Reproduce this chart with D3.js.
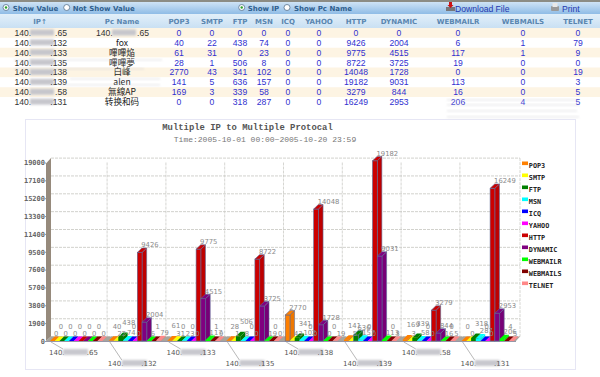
<!DOCTYPE html>
<html>
<head>
<meta charset="utf-8">
<script src="https://cdn.jsdelivr.net/npm/d3@7"></script>
<style>
  html, body { margin: 0; padding: 0; background: #fff; }
  svg { display: block; }
</style>
</head>
<body>
<div id="chart"></div>
<script>
const ipSuffix = [".65", ".132", ".133", ".135", ".138", ".139", ".58", ".131"];
const pcNames = ["", "fox", "嗶嗶焔", "嗶嗶夢", "白峰", "alen", "無線AP", "转换和码"];
const protocols = ["POP3", "SMTP", "FTP", "MSN", "ICQ", "YAHOO", "HTTP", "DYNAMIC", "WEBMAILR", "WEBMAILS", "TELNET"];
const colors = ["#ff8000", "#ffff00", "#008000", "#00ffff", "#0000ff", "#ff00ff", "#cc0000", "#800080", "#00ff00", "#800000", "#ff8888"];

const pop3 = [0, 40, 61, 28, 2770, 141, 169, 0];
const smtp = [0, 22, 31, 1, 43, 5, 3, 0];
const ftp = [0, 438, 0, 506, 341, 636, 339, 318];
const msn = [0, 74, 23, 8, 102, 157, 58, 287];
const icq = [0, 0, 0, 0, 0, 0, 0, 0];
const yahoo = [0, 0, 0, 0, 0, 0, 0, 0];
const http = [0, 9426, 9775, 8722, 14048, 19182, 3279, 16249];
const dynamic = [0, 2004, 4515, 3725, 1728, 9031, 844, 2953];
const webmailr = [0, 6, 117, 19, 0, 113, 16, 206];
const webmails = [0, 1, 1, 0, 0, 0, 0, 4];
const telnet = [0, 79, 9, 0, 19, 3, 5, 5];
const series = [pop3, smtp, ftp, msn, icq, yahoo, http, dynamic, webmailr, webmails, telnet];

const yTicks = [0, 1900, 3800, 5700, 7600, 9500, 11400, 13300, 15200, 17100, 19000];

const svg = d3.select("#chart").append("svg").attr("width", 600).attr("height", 377);
const defs = svg.append("defs");

const barGrad = defs.append("linearGradient").attr("id", "toolbar").attr("x2", 0).attr("y2", 1);
barGrad.append("stop").attr("offset", 0).attr("stop-color", "#cfe3f5");
barGrad.append("stop").attr("offset", 1).attr("stop-color", "#8fbce6");
const headGrad = defs.append("linearGradient").attr("id", "head").attr("x2", 0).attr("y2", 1);
headGrad.append("stop").attr("offset", 0).attr("stop-color", "#e2eff9");
headGrad.append("stop").attr("offset", 1).attr("stop-color", "#c9e0f3");
defs.append("filter").attr("id", "blur").attr("x", "-20%").attr("y", "-50%").attr("width", "140%").attr("height", "200%")
  .append("feGaussianBlur").attr("stdDeviation", 1);

drawToolbar();
drawTable();
drawChart();

function drawToolbar() {
  svg.append("rect").attr("width", 600).attr("height", 2).attr("fill", "#8c8c84");
  svg.append("rect").attr("y", 2).attr("width", 600).attr("height", 12).attr("fill", "url(#toolbar)");

  const opts = [
    { x: 12.7, r: 6, label: "Show Value", on: true },
    { x: 72.7, r: 66.7, label: "Not Show Value", on: false },
    { x: 247.7, r: 241.7, label: "Show IP", on: true },
    { x: 294, r: 287, label: "Show Pc Name", on: false },
  ];
  opts.forEach(o => {
    svg.append("circle").attr("cx", o.r).attr("cy", 7.5).attr("r", 3)
      .attr("fill", "#fff").attr("stroke", "#55708c").attr("stroke-width", 0.8);
    if (o.on) svg.append("circle").attr("cx", o.r).attr("cy", 7.5).attr("r", 1.2).attr("fill", "#2ca02c");
    svg.append("text").attr("x", o.x).attr("y", 11).text(o.label)
      .style("font", "bold 7px 'DejaVu Sans'").style("fill", "#2f5f8f");
  });

  // download and print icons
  svg.append("rect").attr("x", 446).attr("y", 7).attr("width", 9).attr("height", 4).attr("fill", "#77777a");
  svg.append("path").attr("d", "M449 2h3v3h1.5l-3 3-3-3h1.5z").attr("fill", "#cc1111");
  svg.append("rect").attr("x", 551).attr("y", 6).attr("width", 8).attr("height", 5).attr("rx", 1).attr("fill", "#9a9a9a");
  svg.append("rect").attr("x", 552.5).attr("y", 3).attr("width", 5).attr("height", 4).attr("fill", "#e8e8e8");
  svg.append("text").attr("x", 455).attr("y", 12).text("Download File")
    .style("font", "8.6px 'Liberation Sans'").style("fill", "#2438b0");
  svg.append("text").attr("x", 562).attr("y", 12).text("Print")
    .style("font", "8.6px 'Liberation Sans'").style("fill", "#2438b0");
}

function drawTable() {
  const cols = ["IP↑", "Pc Name"].concat(protocols);
  const colX = d3.scaleOrdinal().domain(cols).range([40, 122, 179, 212, 240, 264, 288, 319, 356, 399, 458, 523, 578]);
  const rowY = d3.scaleBand().domain(d3.range(8)).range([28, 107]);

  svg.append("rect").attr("y", 14).attr("width", 600).attr("height", 14).attr("fill", "url(#head)");
  svg.selectAll(".col-head").data(cols).join("text")
    .attr("class", "col-head")
    .attr("x", d => colX(d)).attr("y", 23.5).attr("text-anchor", "middle")
    .style("font", "bold 7px 'DejaVu Sans'").style("fill", "#5a86b0")
    .text(d => d);

  const rows = svg.selectAll(".row").data(d3.range(8)).join("g").attr("class", "row")
    .attr("transform", d => `translate(0,${rowY(d)})`);
  const mid = rowY.bandwidth() / 2 + 3;

  rows.append("rect").attr("width", 600).attr("height", rowY.bandwidth())
    .attr("fill", d => d % 2 ? "#fff" : "#fdf4e3");

  // masked address, as in the reference
  rows.append("text").attr("x", 14.5).attr("y", mid).text("140.")
    .style("font", "8.6px 'Liberation Sans'").style("fill", "#333");
  rows.append("rect").attr("x", 30).attr("y", 1.5).attr("width", 24).attr("height", 6)
    .attr("fill", "#c6c6cc").attr("filter", "url(#blur)");
  rows.append("text").attr("x", 67).attr("y", mid).attr("text-anchor", "end").text(d => ipSuffix[d])
    .style("font", "8.6px 'Liberation Sans'").style("fill", "#333");

  rows.append("text").attr("x", colX("Pc Name")).attr("y", mid).attr("text-anchor", "middle")
    .text(d => pcNames[d])
    .style("font", "8.6px 'Noto Sans CJK TC', 'Liberation Sans'").style("fill", "#222");
  const first = rows.filter(d => d === 0);
  first.append("text").attr("x", 96).attr("y", mid).text("140.")
    .style("font", "8.6px 'Liberation Sans'").style("fill", "#333");
  first.append("rect").attr("x", 112).attr("y", 1.5).attr("width", 24).attr("height", 6)
    .attr("fill", "#c6c6cc").attr("filter", "url(#blur)");
  first.append("text").attr("x", 149).attr("y", mid).attr("text-anchor", "end").text(".65")
    .style("font", "8.6px 'Liberation Sans'").style("fill", "#333");

  protocols.forEach((p, i) => {
    rows.append("text").attr("x", colX(p)).attr("y", mid).attr("text-anchor", "middle")
      .text(d => series[i][d])
      .style("font", "8.6px 'Liberation Sans'").style("fill", "#3030d0");
  });

  // faint page text that shows through
  const faint = [[14, 59, 148], [14, 68, 130], [70, 78, 90], [60, 84, 100], [447, 99, 132], [447, 104, 132], [447, 110, 130], [447, 116, 132]];
  faint.forEach(f => {
    svg.append("rect").attr("x", f[0]).attr("y", f[1]).attr("width", f[2]).attr("height", 1.6)
      .attr("fill", "#d4d4d8").attr("opacity", 0.45).attr("filter", "url(#blur)");
  });
}

function drawChart() {
  const dx = 4.6, dy = 4.4;
  const floorY = 341;

  svg.append("rect").attr("x", 25.5).attr("y", 119.5).attr("width", 550).attr("height", 250)
    .attr("fill", "#fff").attr("stroke", "#e6e6f4");

  svg.append("text").attr("x", 247.5).attr("y", 130).attr("text-anchor", "middle")
    .text("Multiple IP to Multiple Protocal")
    .style("font", "bold 8.9px 'Liberation Mono'").style("fill", "#555");
  svg.append("text").attr("x", 265).attr("y", 142).attr("text-anchor", "middle")
    .text("Time:2005-10-01 00:00~2005-10-20 23:59")
    .style("font", "8px 'Liberation Mono'").style("fill", "#777");

  const y = d3.scaleLinear().domain([0, 19000]).range([floorY, 162.5]);
  const x0 = d3.scaleBand().domain(d3.range(8)).range([46, 516.4]);
  const x1 = d3.scaleBand().domain(d3.range(protocols.length)).range([4, 4 + 11 * 4.75]);

  // back wall grid
  const grid = svg.append("g");
  grid.selectAll(".h").data(yTicks).join("line")
    .attr("x1", 51).attr("x2", 520)
    .attr("y1", d => y(d) - dy).attr("y2", d => y(d) - dy)
    .attr("stroke", "#c6c6c0").attr("stroke-width", 0.8).attr("stroke-dasharray", "3 1");
  grid.selectAll(".v").data(d3.range(1, 8)).join("line")
    .attr("x1", d => x0(d) + 2.3).attr("x2", d => x0(d) + 2.3)
    .attr("y1", y(19000)).attr("y2", floorY - dy)
    .attr("stroke", "#ccccc6").attr("stroke-width", 0.8).attr("stroke-dasharray", "3 1");
  grid.append("line").attr("x1", 520).attr("x2", 520).attr("y1", y(19000) - dy).attr("y2", floorY - dy)
    .attr("stroke", "#ccccc6").attr("stroke-width", 0.8).attr("stroke-dasharray", "3 1");

  // left wall and floor
  const wall = d3.path();
  wall.moveTo(46, y(19000) + 1); wall.lineTo(51, y(19000) - dy); wall.lineTo(51, floorY - dy); wall.lineTo(46, floorY); wall.closePath();
  svg.append("path").attr("d", wall.toString()).attr("fill", "#968a7c");
  const floor = d3.path();
  floor.moveTo(46, floorY); floor.lineTo(51, floorY - dy); floor.lineTo(520, floorY - dy); floor.lineTo(516, floorY); floor.closePath();
  svg.append("path").attr("d", floor.toString()).attr("fill", "#a8a49c");
  svg.append("line").attr("x1", 46).attr("x2", 516).attr("y1", floorY + 0.5).attr("y2", floorY + 0.5)
    .attr("stroke", "#7c7c90").attr("stroke-width", 0.8);

  // y axis
  const yAxis = svg.append("g").attr("transform", "translate(46,0)")
    .call(d3.axisLeft(y).tickValues(yTicks).tickSize(1).tickPadding(0).tickFormat(d3.format("d")));
  yAxis.select(".domain").remove();
  yAxis.selectAll("line").attr("stroke", "#999");
  yAxis.selectAll("text").style("font", "bold 7px 'DejaVu Sans Mono'").style("fill", "#666");

  // flatten to one record per bar
  const bars = [];
  x0.domain().forEach(g => {
    protocols.forEach((p, i) => bars.push({ g, i, value: series[i][g], x: x0(g) + x1(i), w: 4.75 }));
  });

  const barG = svg.selectAll(".bar").data(bars).join("g").attr("class", "bar");
  const edge = d => d.value > 600 ? "#5c6c98" : "none";

  barG.append("path").attr("fill", d => d3.color(colors[d.i]).darker(0.2))
    .attr("stroke", edge).attr("stroke-width", 0.6)
    .attr("d", d => {
      const p = d3.path(), r = d.x + d.w, top = y(d.value);
      p.moveTo(r, floorY); p.lineTo(r + dx, floorY - dy); p.lineTo(r + dx, top - dy); p.lineTo(r, top); p.closePath();
      return p.toString();
    });
  barG.append("rect").attr("x", d => d.x).attr("width", d => d.w)
    .attr("y", d => y(d.value)).attr("height", d => floorY - y(d.value))
    .attr("fill", d => colors[d.i]).attr("stroke", edge).attr("stroke-width", 0.6);
  barG.append("path").attr("fill", d => colors[d.i])
    .attr("stroke", edge).attr("stroke-width", 0.6)
    .attr("d", d => {
      const p = d3.path(), top = y(d.value);
      p.moveTo(d.x, top); p.lineTo(d.x + dx, top - dy); p.lineTo(d.x + d.w + dx, top - dy); p.lineTo(d.x + d.w, top); p.closePath();
      return p.toString();
    });

  // small values take turns on two rows so they stay readable
  const raised = d => {
    if (d.value > 600) return false;
    if (d.i >= 6) return d.i % 2 === 1;
    return d.i % 2 === (d.g ? 0 : 1);
  };
  svg.selectAll(".val").data(bars).join("text").attr("class", "val")
    .attr("x", d => d.x + 4)
    .attr("y", d => y(d.value) - (raised(d) ? 12 : 5))
    .style("font", "6.8px 'DejaVu Sans'").style("fill", "#8a8a8a")
    .text(d => d.value);

  // legend
  const legend = svg.selectAll(".leg").data(protocols).join("g").attr("class", "leg")
    .attr("transform", (d, i) => `translate(522,${161.5 + i * 12})`);
  legend.append("rect").attr("width", 6).attr("height", 3.6).attr("fill", (d, i) => colors[i]);
  legend.append("text").attr("x", 6.8).attr("y", 6.8).text(d => d)
    .style("font", "bold 6.8px 'DejaVu Sans Mono'").style("fill", "#222");

  // address labels with leader lines
  const lab = svg.selectAll(".ip").data(x0.domain()).join("g").attr("class", "ip")
    .attr("transform", d => `translate(${x0(d)},0)`);
  lab.append("line").attr("x1", 5).attr("y1", floorY + 1).attr("x2", 17)
    .attr("y2", d => d % 2 ? 360 : 349).attr("stroke", "#999").attr("stroke-width", 0.7);
  lab.append("text").attr("x", 3).attr("y", d => d % 2 ? 366 : 355).text("140.")
    .style("font", "7px 'DejaVu Sans'").style("fill", "#555");
  lab.append("rect").attr("x", 17).attr("y", d => d % 2 ? 360 : 349).attr("width", 25).attr("height", 6)
    .attr("fill", "#c8c8ce").attr("filter", "url(#blur)");
  lab.append("text").attr("x", 52).attr("y", d => d % 2 ? 366 : 355).attr("text-anchor", "end")
    .text(d => ipSuffix[d])
    .style("font", "7px 'DejaVu Sans'").style("fill", "#555");
}
</script>
</body>
</html>
